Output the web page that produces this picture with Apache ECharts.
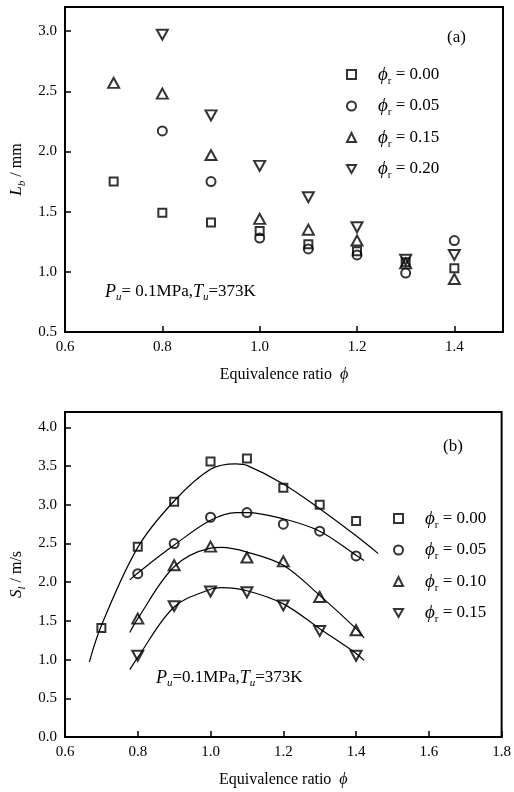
<!DOCTYPE html>
<html>
<head>
<meta charset="utf-8">
<script src="https://cdn.jsdelivr.net/npm/echarts@6/dist/echarts.min.js"></script>
<style>
html,body{margin:0;padding:0;background:#fff;}
#c{width:514px;height:792px;}
</style>
</head>
<body>
<div id="c"></div>
<script>
// ---------- data: panel (a) flame thickness L_b (mm) ----------
const phiA = [0.7, 0.8, 0.9, 1.0, 1.1, 1.2, 1.3, 1.4];
const Lb_r000 = [1.75, 1.49, 1.41, 1.34, 1.23, 1.17, 1.08, 1.03];
const Lb_r005 = [null, 2.17, 1.75, 1.28, 1.19, 1.14, 0.99, 1.26];
const Lb_r015 = [2.57, 2.48, 1.97, 1.44, 1.35, 1.26, 1.07, 0.94];
const Lb_r020 = [null, 2.97, 2.30, 1.88, 1.62, 1.37, 1.10, 1.14];
const legendA = ['0.00', '0.05', '0.15', '0.20'];

// ---------- data: panel (b) laminar burning velocity S_l (m/s) ----------
const phiB = [0.7, 0.8, 0.9, 1.0, 1.1, 1.2, 1.3, 1.4];
const Sl_r000 = [1.41, 2.46, 3.04, 3.56, 3.60, 3.22, 3.00, 2.79];
const Sl_r005 = [null, 2.11, 2.50, 2.84, 2.90, 2.75, 2.66, 2.34];
const Sl_r010 = [null, 1.53, 2.22, 2.46, 2.32, 2.27, 1.81, 1.38];
const Sl_r015 = [null, 1.05, 1.69, 1.88, 1.87, 1.70, 1.37, 1.05];
const legendB = ['0.00', '0.05', '0.10', '0.15'];

// fitted curves (x, y pairs)
const fit000x = [0.667, 0.70, 0.80, 0.90, 1.00, 1.07, 1.10, 1.20, 1.30, 1.40, 1.461];
const fit000y = [0.97, 1.44, 2.45, 3.05, 3.46, 3.53, 3.51, 3.27, 2.95, 2.60, 2.37];
const fit005x = [0.778, 0.80, 0.90, 1.00, 1.07, 1.10, 1.20, 1.30, 1.40, 1.422];
const fit005y = [2.03, 2.12, 2.48, 2.80, 2.90, 2.90, 2.82, 2.66, 2.35, 2.28];
const fit010x = [0.778, 0.80, 0.90, 1.00, 1.03, 1.10, 1.20, 1.30, 1.40, 1.422];
const fit010y = [1.35, 1.53, 2.20, 2.44, 2.45, 2.39, 2.22, 1.83, 1.40, 1.28];
const fit015x = [0.778, 0.80, 0.90, 1.00, 1.03, 1.10, 1.20, 1.30, 1.40, 1.422];
const fit015y = [0.87, 1.03, 1.68, 1.91, 1.93, 1.89, 1.72, 1.40, 1.08, 0.99];

// ---------- ticks ----------
const xTicksA = [0.6, 0.8, 1.0, 1.2, 1.4];
const yTicksA = [0.5, 1.0, 1.5, 2.0, 2.5, 3.0];
const xTicksB = [0.6, 0.8, 1.0, 1.2, 1.4, 1.6, 1.8];
const yTicksB = [0.0, 0.5, 1.0, 1.5, 2.0, 2.5, 3.0, 3.5, 4.0];

const FONT = '"Liberation Serif", "Times New Roman", serif';
const DOWN_TRI = 'path://M0,0 L10,0 L5,9 Z';

function pairs(xs, ys) {
  const out = [];
  for (let i = 0; i < xs.length; i++) if (ys[i] != null) out.push([xs[i], ys[i]]);
  return out;
}

const hollow = { color: 'rgba(255,255,255,0)', borderColor: '#000', borderWidth: 2 };

function scatter(name, xs, ys, symbol, size, idx) {
  return {
    type: 'scatter', name: name, xAxisIndex: idx, yAxisIndex: idx,
    data: pairs(xs, ys), symbol: symbol, symbolSize: size,
    itemStyle: hollow, z: 5, silent: true
  };
}
function curve(xs, ys) {
  return {
    type: 'line', xAxisIndex: 1, yAxisIndex: 1, data: pairs(xs, ys),
    showSymbol: false, smooth: 0.35, silent: true,
    lineStyle: { color: '#000', width: 1.2 }, z: 2
  };
}

const richLegend = {
  p: { fontFamily: FONT, fontStyle: 'italic', fontSize: 19, color: '#000' },
  s: { fontFamily: FONT, fontSize: 11, color: '#000', padding: [13, 0, 0, 0] },
  t: { fontFamily: FONT, fontSize: 17, color: '#000' }
};
function legendFmt(name) {
  const v = name.split('|')[1];
  return '{p|\u03d5}{s|r}{t| = ' + v + '}';
}

function axisCommon(ticks) {
  return {
    type: 'value',
    axisLine: { show: true, onZero: false, lineStyle: { color: '#000', width: 2 } },
    axisTick: { show: true, inside: true, length: 6, customValues: ticks, lineStyle: { color: '#000', width: 1.5 } },
    axisLabel: { customValues: ticks, color: '#000', fontFamily: FONT, fontSize: 15, margin: 8,
                 formatter: v => v.toFixed(1) },
    splitLine: { show: false }
  };
}

const xName = {
  name: '{t|Equivalence ratio  }{p|\u03d5}',
  nameLocation: 'middle', nameGap: 35,
  nameTextStyle: { rich: {
    t: { fontFamily: FONT, fontSize: 16, color: '#000' },
    p: { fontFamily: FONT, fontSize: 16, fontStyle: 'italic', color: '#000' }
  } }
};

const yNameRich = {
  i: { fontFamily: FONT, fontSize: 17, fontStyle: 'italic', color: '#000' },
  s: { fontFamily: FONT, fontSize: 11, fontStyle: 'italic', color: '#000', padding: [10, 0, 0, 0] },
  t: { fontFamily: FONT, fontSize: 16, color: '#000' }
};

const annRich = {
  i: { fontFamily: FONT, fontSize: 18, fontStyle: 'italic', fill: '#000' },
  s: { fontFamily: FONT, fontSize: 11, fontStyle: 'italic', fill: '#000', padding: [11, 0, 0, 0] },
  t: { fontFamily: FONT, fontSize: 17, fill: '#000' }
};

const option = {
  backgroundColor: '#fff',
  animation: false,
  grid: [
    { left: 65, right: 11, top: 7, height: 325, show: true, borderColor: '#000', borderWidth: 2 },
    { left: 65, right: 11, top: 412, height: 325, show: true, borderColor: '#000', borderWidth: 2 }
  ],
  xAxis: [
    Object.assign(axisCommon(xTicksA), { gridIndex: 0, min: 0.6, max: 1.5 }, xName),
    Object.assign(axisCommon(xTicksB), { gridIndex: 1, min: 0.6, max: 1.8 }, xName)
  ],
  yAxis: [
    Object.assign(axisCommon(yTicksA), { gridIndex: 0, min: 0.5, max: 3.2,
      name: '{i|L}{s|b}{t| / mm}', nameLocation: 'middle', nameGap: 33,
      nameTextStyle: { rich: yNameRich } }),
    Object.assign(axisCommon(yTicksB), { gridIndex: 1, min: 0, max: 4.2,
      name: '{i|S}{s|l}{t| / m/s}', nameLocation: 'middle', nameGap: 33,
      nameTextStyle: { rich: yNameRich } })
  ],
  legend: [
    { orient: 'vertical', left: 341, top: 60, itemWidth: 9, itemHeight: 9, itemGap: 10,
      data: legendA.map(v => 'a|' + v), formatter: legendFmt, selectedMode: false,
      textStyle: { rich: richLegend, padding: [0, 0, 0, 17] } },
    { orient: 'vertical', left: 388, top: 504, itemWidth: 9, itemHeight: 9, itemGap: 10,
      data: legendB.map(v => 'b|' + v), formatter: legendFmt, selectedMode: false,
      textStyle: { rich: richLegend, padding: [0, 0, 0, 17] } }
  ],
  graphic: [
    { type: 'text', left: 447, top: 29, style: { text: '(a)', font: '17px ' + FONT, fill: '#000' } },
    { type: 'text', left: 443, top: 438, style: { text: '(b)', font: '17px ' + FONT, fill: '#000' } },
    { type: 'text', left: 105, top: 283, style: {
      text: '{i|P}{s|u}{t|= 0.1MPa,}{i|T}{s|u}{t|=373K}', rich: annRich } },
    { type: 'text', left: 156, top: 669, style: {
      text: '{i|P}{s|u}{t|=0.1MPa,}{i|T}{s|u}{t|=373K}', rich: annRich } }
  ],
  series: [
    scatter('a|0.00', phiA, Lb_r000, 'rect', 8, 0),
    scatter('a|0.05', phiA, Lb_r005, 'circle', 9, 0),
    scatter('a|0.15', phiA, Lb_r015, 'triangle', [11, 10], 0),
    scatter('a|0.20', phiA, Lb_r020, DOWN_TRI, [11, 10], 0),
    curve(fit000x, fit000y),
    curve(fit005x, fit005y),
    curve(fit010x, fit010y),
    curve(fit015x, fit015y),
    scatter('b|0.00', phiB, Sl_r000, 'rect', 8, 1),
    scatter('b|0.05', phiB, Sl_r005, 'circle', 9, 1),
    scatter('b|0.10', phiB, Sl_r010, 'triangle', [11, 10], 1),
    scatter('b|0.15', phiB, Sl_r015, DOWN_TRI, [11, 10], 1)
  ]
};

const chart = echarts.init(document.getElementById('c'), null, { renderer: 'canvas' });
chart.setOption(option);
</script>
</body>
</html>
